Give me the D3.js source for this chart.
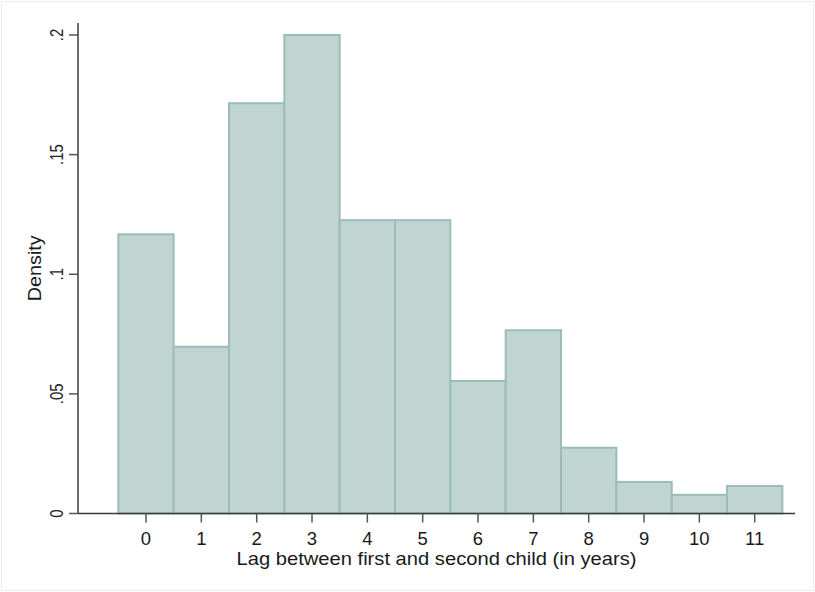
<!DOCTYPE html>
<html>
<head>
<meta charset="utf-8">
<script src="https://cdn.jsdelivr.net/npm/d3@7"></script>
<style>
  html, body { margin: 0; padding: 0; background: #fff; }
  svg { display: block; font-family: "Liberation Sans", Arial, sans-serif; }
</style>
</head>
<body>
<svg id="chart" width="815" height="592"></svg>
<script>
// Histogram of the lag (years) between first and second child, density scale
const lagYears = [0, 1, 2, 3, 4, 5, 6, 7, 8, 9, 10, 11];
const densities = [0.1167, 0.0697, 0.1715, 0.2000, 0.1226, 0.1226, 0.0554, 0.0766, 0.0275, 0.0132, 0.0078, 0.0115];
const yTickValues = [0, 0.05, 0.1, 0.15, 0.2];
const yTickLabels = ["0", ".05", ".1", ".15", ".2"];
const xTitle = "Lag between first and second child (in years)";
const yTitle = "Density";

const svg = d3.select("#chart");

// faint outer frame
svg.append("rect")
  .attr("x", 1.5).attr("y", 1.5).attr("width", 812).attr("height", 589)
  .attr("fill", "none").attr("stroke", "#ececec").attr("stroke-width", 1);

const axisLeftX = 78, axisBottomY = 513.5, axisTopY = 23, axisRightX = 795;

const x = d3.scaleLinear().domain([0, 11]).range([146, 754.7]);
const y = d3.scaleLinear().domain([0, 0.2]).range([axisBottomY, 35]);

// bars: each bin spans value-0.5 .. value+0.5
svg.append("g").selectAll("rect")
  .data(lagYears.map((v, i) => ({ v, d: densities[i] })))
  .join("rect")
  .attr("x", d => x(d.v - 0.5))
  .attr("width", d => x(d.v + 0.5) - x(d.v - 0.5))
  .attr("y", d => y(d.d))
  .attr("height", d => y(0) - y(d.d))
  .attr("fill", "#c0d4d2")
  .attr("stroke", "#9bbdb6")
  .attr("stroke-width", 2);

// y axis
const yAxis = svg.append("g");
yAxis.append("line")
  .attr("x1", axisLeftX).attr("x2", axisLeftX)
  .attr("y1", axisTopY).attr("y2", axisBottomY)
  .attr("stroke", "#3a3a3a").attr("stroke-width", 1.5);
yAxis.selectAll("line.tick")
  .data(yTickValues)
  .join("line")
  .attr("class", "tick")
  .attr("x1", axisLeftX - 9).attr("x2", axisLeftX)
  .attr("y1", d => y(d)).attr("y2", d => y(d))
  .attr("stroke", "#555").attr("stroke-width", 1.5);
yAxis.selectAll("text")
  .data(yTickValues)
  .join("text")
  .attr("transform", d => `translate(63,${y(d)}) rotate(-90) scale(0.83,1)`)
  .attr("text-anchor", "middle")
  .attr("font-size", 18)
  .attr("fill", "#222")
  .text((d, i) => yTickLabels[i]);

// x axis
const xAxis = svg.append("g");
xAxis.append("line")
  .attr("x1", axisLeftX).attr("x2", axisRightX)
  .attr("y1", axisBottomY).attr("y2", axisBottomY)
  .attr("stroke", "#3a3a3a").attr("stroke-width", 1.5);
xAxis.selectAll("line.tick")
  .data(lagYears)
  .join("line")
  .attr("class", "tick")
  .attr("x1", d => x(d)).attr("x2", d => x(d))
  .attr("y1", axisBottomY).attr("y2", axisBottomY + 9)
  .attr("stroke", "#555").attr("stroke-width", 1.5);
xAxis.selectAll("text")
  .data(lagYears)
  .join("text")
  .attr("x", d => x(d))
  .attr("y", 545)
  .attr("text-anchor", "middle")
  .attr("font-size", 18.5)
  .attr("fill", "#1a1a1a")
  .text(d => d3.format("d")(d));

// axis titles (slightly widened glyphs)
svg.append("text")
  .attr("transform", `translate(${(axisLeftX + axisRightX) / 2},565) scale(1.12,1)`)
  .attr("text-anchor", "middle")
  .attr("font-size", 18)
  .attr("fill", "#1a1a1a")
  .text(xTitle);

svg.append("text")
  .attr("transform", `translate(41,${(axisTopY + axisBottomY) / 2}) rotate(-90) scale(1.1,1)`)
  .attr("text-anchor", "middle")
  .attr("font-size", 18)
  .attr("fill", "#1a1a1a")
  .text(yTitle);
</script>
</body>
</html>
